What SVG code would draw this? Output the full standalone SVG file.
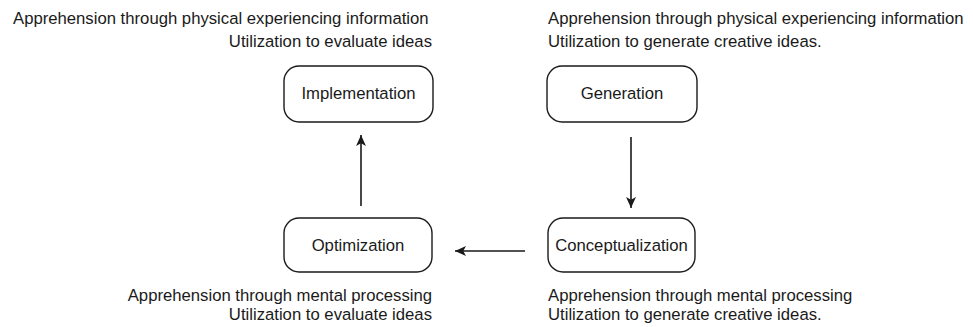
<svg xmlns="http://www.w3.org/2000/svg" width="973" height="327" viewBox="0 0 973 327">
<style>
text{font-family:"Liberation Sans",Arial,sans-serif;font-size:16.7px;fill:#1a1a1a}
.box{fill:#fff;stroke:#1a1a1a;stroke-width:1.4}
.c{stroke:#1a1a1a;stroke-width:1.6;fill:none}
.m{text-anchor:middle}
.e{text-anchor:end}
</style>
<defs>
<marker id="ah" viewBox="0 0 10 10" refX="10" refY="5" markerWidth="11" markerHeight="11" markerUnits="userSpaceOnUse" orient="auto">
<path d="M0,0.5 L10,5 L0,9.5 L2.5,5 Z" fill="#1a1a1a"/>
</marker>
</defs>
<rect width="973" height="327" fill="#fff"/>
<g id="annotations">
<text x="13" y="24">Apprehension through physical experiencing information</text>
<text x="432" y="47" class="e">Utilization to evaluate ideas</text>
<text x="548" y="24">Apprehension through physical experiencing information</text>
<text x="548" y="47">Utilization to generate creative ideas.</text>
<text x="432" y="300.5" class="e">Apprehension through mental processing</text>
<text x="432" y="319.5" class="e">Utilization to evaluate ideas</text>
<text x="548" y="300.5">Apprehension through mental processing</text>
<text x="548" y="319.5">Utilization to generate creative ideas.</text>
</g>
<g id="implementation">
<rect class="box" x="284" y="66" width="149" height="56" rx="15"/>
<text x="358.5" y="99" class="m">Implementation</text>
</g>
<g id="generation">
<rect class="box" x="547" y="66" width="150" height="56" rx="15"/>
<text x="622" y="99" class="m">Generation</text>
</g>
<g id="optimization">
<rect class="box" x="284" y="218" width="148" height="54" rx="15"/>
<text x="358" y="251" class="m">Optimization</text>
</g>
<g id="conceptualization">
<rect class="box" x="548" y="218" width="147" height="54" rx="15"/>
<text x="621.5" y="251" class="m">Conceptualization</text>
</g>
<g id="connectors">
<line class="c" x1="361" y1="206" x2="361" y2="135" marker-end="url(#ah)"/>
<line class="c" x1="631" y1="137" x2="631" y2="208" marker-end="url(#ah)"/>
<line class="c" x1="525" y1="251" x2="455" y2="251" marker-end="url(#ah)"/>
</g>
</svg>
